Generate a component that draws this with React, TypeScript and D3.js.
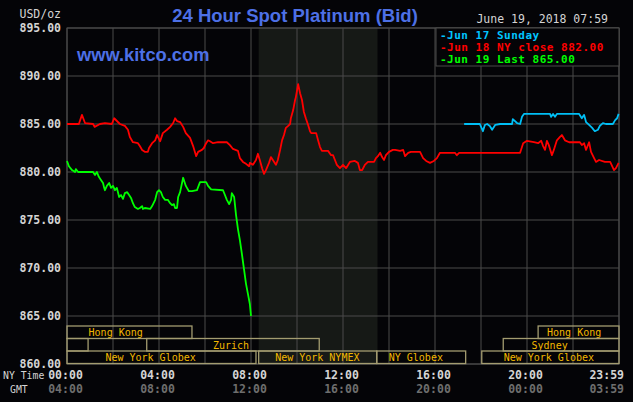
import * as d3 from 'd3';

// price axis + time labels
const priceTicks = [860, 865, 870, 875, 880, 885, 890, 895];
const nyTimeLabels = ['00:00', '04:00', '08:00', '12:00', '16:00', '20:00', '23:59'];
const gmtLabels = ['04:00', '08:00', '12:00', '16:00', '20:00', '00:00', '03:59'];

// Jun 18 NY close (red)
const jun18: [string, number][] = [
  ['00:00', 885.0], ['00:31', 885.0], ['00:39', 885.95], ['00:47', 885.1], ['01:08', 885.0],
  ['01:12', 884.7], ['01:26', 885.0], ['01:39', 885.1], ['01:57', 885.0], ['02:03', 885.6],
  ['02:18', 885.0], ['02:31', 884.8], ['02:39', 884.4], ['02:44', 883.65], ['02:52', 883.1],
  ['03:05', 883.0], ['03:10', 882.7], ['03:16', 882.3], ['03:23', 882.1], ['03:31', 882.1],
  ['03:34', 882.5], ['03:42', 883.0], ['03:50', 883.3], ['03:55', 883.85], ['04:03', 883.2],
  ['04:10', 884.05], ['04:21', 884.4], ['04:29', 884.7], ['04:37', 885.1], ['04:42', 885.6],
  ['04:47', 885.3], ['04:55', 885.2], ['05:03', 884.7], ['05:10', 884.05], ['05:21', 883.55],
  ['05:29', 882.7], ['05:37', 881.65], ['05:42', 882.1], ['05:52', 882.3], ['05:57', 882.5],
  ['06:03', 883.0], ['06:08', 883.3], ['06:13', 883.2], ['06:21', 883.0], ['06:34', 883.1],
  ['06:57', 883.1], ['07:05', 882.8], ['07:13', 882.4], ['07:26', 882.2], ['07:31', 881.45],
  ['07:39', 881.05], ['07:47', 880.85], ['07:55', 880.6], ['07:57', 880.95], ['08:05', 880.75],
  ['08:13', 881.25], ['08:18', 881.9], ['08:23', 881.25], ['08:29', 880.4], ['08:34', 879.8],
  ['08:39', 880.2], ['08:47', 880.95], ['08:52', 881.55], ['08:57', 881.25], ['09:05', 880.75],
  ['09:10', 881.25], ['09:16', 882.3], ['09:21', 883.3], ['09:26', 883.85], ['09:31', 884.6],
  ['09:37', 884.8], ['09:42', 885.0], ['09:44', 885.6], ['09:50', 886.45], ['09:55', 887.5],
  ['09:57', 887.8], ['10:03', 889.15], ['10:08', 888.2], ['10:13', 887.5], ['10:18', 886.25],
  ['10:23', 885.6], ['10:29', 884.9], ['10:34', 884.25], ['10:37', 884.05], ['10:50', 884.05],
  ['10:55', 883.3], ['11:00', 882.6], ['11:05', 882.2], ['11:21', 882.2], ['11:29', 881.75],
  ['11:34', 881.75], ['11:39', 881.25], ['11:44', 880.75], ['11:52', 880.4], ['12:00', 880.75],
  ['12:08', 880.4], ['12:18', 881.05], ['12:31', 881.15], ['12:39', 880.95], ['12:44', 880.2],
  ['12:50', 880.2], ['12:57', 880.75], ['13:05', 881.05], ['13:21', 881.05], ['13:26', 881.45],
  ['13:31', 881.65], ['13:37', 882.0], ['13:42', 881.55], ['13:47', 881.25], ['13:52', 881.75],
  ['14:00', 882.1], ['14:10', 882.3], ['14:16', 882.3], ['14:29', 882.2], ['14:37', 882.3],
  ['14:42', 881.65], ['14:50', 882.0], ['14:57', 882.1], ['15:21', 882.1], ['15:29', 881.45],
  ['15:37', 881.15], ['15:47', 880.95], ['15:57', 881.15], ['16:05', 881.45], ['16:13', 882.0],
  ['16:39', 882.0], ['16:52', 882.0], ['16:57', 881.75], ['17:03', 882.0], ['19:42', 882.0],
  ['19:50', 883.0], ['20:00', 883.25], ['20:18', 883.1], ['20:29', 883.0], ['20:37', 883.25],
  ['20:42', 882.7], ['20:47', 882.3], ['20:52', 883.25], ['20:57', 882.8], ['21:05', 881.75],
  ['21:10', 882.3], ['21:18', 883.3], ['21:26', 883.65], ['21:31', 883.85], ['21:39', 883.3],
  ['21:50', 883.1], ['22:18', 883.1], ['22:23', 882.8], ['22:29', 883.0], ['22:34', 882.3],
  ['22:42', 883.1], ['22:47', 882.1], ['22:55', 881.45], ['23:00', 881.05], ['23:08', 881.25],
  ['23:23', 881.05], ['23:37', 881.05], ['23:47', 880.2], ['23:52', 880.4], ['23:59', 880.95],
];

// Jun 19 last (green)
const jun19: [string, number][] = [
  ['00:00', 881.15], ['00:05', 880.6], ['00:13', 880.2], ['00:21', 880.0], ['00:23', 880.3],
  ['00:29', 880.0], ['01:08', 880.0], ['01:13', 879.7], ['01:18', 880.0], ['01:23', 879.5],
  ['01:29', 879.15], ['01:34', 878.85], ['01:37', 878.35], ['01:39', 878.1], ['01:44', 878.55],
  ['01:50', 878.85], ['01:55', 878.35], ['02:00', 878.55], ['02:05', 878.1], ['02:10', 878.35],
  ['02:16', 877.4], ['02:21', 877.6], ['02:26', 877.2], ['02:31', 877.8], ['02:37', 877.9],
  ['02:42', 877.6], ['02:47', 877.3], ['02:52', 876.75], ['02:57', 876.35], ['03:05', 876.15],
  ['03:10', 876.25], ['03:16', 876.45], ['03:18', 876.15], ['03:23', 876.25], ['03:37', 876.15],
  ['03:42', 876.45], ['03:50', 877.1], ['03:55', 877.9], ['04:00', 878.1], ['04:05', 877.9],
  ['04:10', 877.4], ['04:16', 877.1], ['04:23', 877.1], ['04:29', 876.75], ['04:34', 876.55],
  ['04:39', 876.65], ['04:42', 876.25], ['04:47', 876.25], ['04:50', 877.4], ['04:55', 877.9],
  ['05:03', 879.4], ['05:10', 878.55], ['05:18', 878.0], ['05:26', 878.0], ['05:39', 878.1],
  ['05:47', 878.95], ['06:03', 878.95], ['06:08', 878.55], ['06:16', 878.2], ['06:47', 878.1],
  ['06:52', 877.6], ['06:57', 877.1], ['07:03', 876.65], ['07:08', 877.1], ['07:10', 877.8],
  ['07:16', 877.4], ['07:21', 875.5], ['07:26', 874.05], ['07:31', 872.9], ['07:37', 871.25],
  ['07:42', 869.8], ['07:47', 868.35], ['07:52', 867.3], ['07:57', 866.25], ['08:00', 865.0],
];

// Jun 17 Sunday (cyan)
const jun17: [string, number][] = [
  ['17:16', 885.0], ['17:57', 885.0], ['18:05', 884.25], ['18:10', 884.9], ['18:16', 885.0],
  ['18:23', 884.8], ['18:29', 884.4], ['18:37', 884.9], ['18:50', 885.0], ['19:21', 885.0],
  ['19:23', 885.5], ['19:34', 885.1], ['19:42', 885.0], ['19:47', 885.75], ['19:52', 886.05],
  ['21:00', 886.05], ['21:03', 885.75], ['21:08', 886.05], ['21:13', 885.75], ['21:18', 886.05],
  ['22:16', 886.05], ['22:23', 885.6], ['22:29', 885.95], ['22:34', 885.2], ['22:42', 884.9],
  ['22:50', 884.6], ['22:57', 884.25], ['23:05', 884.4], ['23:10', 884.8], ['23:18', 885.1],
  ['23:26', 885.0], ['23:44', 885.0], ['23:50', 885.4], ['23:55', 885.6], ['23:59', 886.05],
];

const series = [
  { name: 'Jun 17', data: jun17, color: '#00bff5' },
  { name: 'Jun 18', data: jun18, color: '#ff0000' },
  { name: 'Jun 19', data: jun19, color: '#00ff00' },
];

const legendItems = [
  { text: '-Jun 17 Sunday', color: '#00c4ff' },
  { text: '-Jun 18 NY close 882.00', color: '#ff0000' },
  { text: '-Jun 19 Last 865.00', color: '#00ff00' },
];

// market session bars (row 0 top .. row 2 bottom)
const sessions = [
  { row: 0, start: '00:00', end: '05:26', label: 'Hong Kong', labelAt: '02:07' },
  { row: 0, start: '20:29', end: '24:00', label: 'Hong Kong', labelAt: '22:03' },
  { row: 1, start: '00:00', end: '00:55', label: '', labelAt: '00:00' },
  { row: 1, start: '03:28', end: '10:58', label: 'Zurich', labelAt: '07:08' },
  { row: 1, start: '18:58', end: '24:00', label: 'Sydney', labelAt: '20:59' },
  { row: 2, start: '00:00', end: '08:13', label: 'New York Globex', labelAt: '03:38' },
  { row: 2, start: '08:20', end: '13:28', label: 'New York NYMEX', labelAt: '10:53' },
  { row: 2, start: '13:28', end: '17:20', label: 'NY Globex', labelAt: '15:10' },
  { row: 2, start: '18:02', end: '24:00', label: 'New York Globex', labelAt: '20:57' },
];

const nymexHours = ['08:20', '13:30'];

const width = 633;
const height = 402;
const margin = { top: 28, right: 14, bottom: 38, left: 67 };
const mono = '"DejaVu Sans Mono", monospace';

const parseTime = d3.timeParse('%H:%M');
const dayStart = parseTime('00:00') as Date;
const t = (s: string) => (s === '24:00' ? d3.timeDay.offset(dayStart, 1) : (parseTime(s) as Date));

export default function App() {
  const x = d3.scaleTime()
    .domain([dayStart, d3.timeDay.offset(dayStart, 1)])
    .range([margin.left, width - margin.right]);
  const y = d3.scaleLinear()
    .domain([860, 895])
    .range([height - margin.bottom, margin.top]);

  const line = d3.line<[string, number]>()
    .x(d => x(t(d[0])))
    .y(d => y(d[1]));

  const hourTicks = x.ticks(d3.timeHour.every(2) as d3.TimeInterval);
  const labelTicks = x.ticks(d3.timeHour.every(4) as d3.TimeInterval);
  const labelX = nyTimeLabels.map((_, i) => i < labelTicks.length - 1 ? x(labelTicks[i]) : x(t('24:00')));

  const rowH = 12.5;
  const rowTop = (r: number) => y(865) + 10 + r * rowH;
  const x0 = x.range()[0];
  const x1 = x.range()[1];

  return (
    <svg width={width} height={height} style={{ position: 'absolute', left: 0, top: 0, display: 'block' }}>
      <rect x={0} y={0} width={width} height={height} fill="#040407" />
      {/* NYMEX pit hours */}
      <rect x={x(t(nymexHours[0]))} y={y(895)} width={x(t(nymexHours[1])) - x(t(nymexHours[0]))}
        height={y(860) - y(895)} fill="#161916" />
      {/* grid */}
      {priceTicks.map(p => (
        <line key={p} x1={x0} x2={x1} y1={y(p)} y2={y(p)} stroke="#4a4a4a" strokeWidth={1} />
      ))}
      {hourTicks.map(h => (
        <line key={+h} x1={x(h)} x2={x(h)} y1={y(895)} y2={y(860)} stroke="#4a4a4a" strokeWidth={1} />
      ))}
      <rect x={x0} y={y(895)} width={x1 - x0} height={y(860) - y(895)} fill="none" stroke="#4a4a4a" />

      {/* legend box */}
      <rect x={436} y={y(895)} width={x1 - 436} height={38} fill="#040407" stroke="#4a4a4a" />
      {legendItems.map((d, i) => (
        <text key={d.text} x={440} y={38.5 + i * 12} fill={d.color} fontFamily={mono} fontSize={11}
          fontWeight="bold" letterSpacing={0.5}>{d.text}</text>
      ))}

      {/* sessions */}
      {sessions.map((s, i) => (
        <g key={i}>
          <rect x={x(t(s.start))} y={rowTop(s.row)} width={x(t(s.end)) - x(t(s.start))} height={rowH}
            fill="none" stroke="#a39c70" strokeWidth={1.3} />
          <text x={x(t(s.labelAt))} y={rowTop(s.row) + 10} fill="#f2b800" fontFamily={mono} fontSize={10}
            textAnchor="middle">{s.label}</text>
        </g>
      ))}

      {/* price lines */}
      {series.map(s => (
        <path key={s.name} d={line(s.data) ?? ''} fill="none" stroke={s.color} strokeWidth={1.8}
          strokeLinejoin="round" />
      ))}

      {/* y axis labels */}
      <text x={61} y={18} fill="#d4d4d4" fontFamily={mono} fontSize={11.5} textAnchor="end">USD/oz</text>
      {priceTicks.map(p => (
        <text key={p} x={61} y={y(p) + 3.5} fill="#d4d4d4" fontFamily={mono} fontSize={11.5} fontWeight="bold"
          textAnchor="end">{p.toFixed(2)}</text>
      ))}

      {/* x axis labels */}
      <text x={3} y={379} fill="#d4d4d4" fontFamily={mono} fontSize={9.8}>NY Time</text>
      <text x={10} y={393} fill="#d4d4d4" fontFamily={mono} fontSize={9.8}>GMT</text>
      {nyTimeLabels.map((lab, i) => {
        const last = i === nyTimeLabels.length - 1;
        return (
          <g key={lab + i}>
            <text x={last ? labelX[i] + 5 : labelX[i] - 1.5} y={379} fill="#d4d4d4" fontFamily={mono} fontSize={11.5}
              fontWeight="bold" textAnchor={last ? 'end' : 'middle'}>{lab}</text>
            <text x={last ? labelX[i] + 5 : labelX[i] - 1.5} y={393} fill="#6e6e6e" fontFamily={mono} fontSize={11.5}
              fontWeight="bold" textAnchor={last ? 'end' : 'middle'}>{gmtLabels[i]}</text>
          </g>
        );
      })}

      {/* titles */}
      <text x={295} y={22} fill="#4d70e6" fontFamily="'Liberation Sans', Arial, sans-serif" fontSize={18.5}
        fontWeight="bold" textAnchor="middle">24 Hour Spot Platinum (Bid)</text>
      <text x={77} y={61} fill="#4d70e6" fontFamily="'Liberation Sans', Arial, sans-serif" fontSize={18.3}
        fontWeight="bold">www.kitco.com</text>
      <text x={608} y={23} fill="#d4d4d4" fontFamily={mono} fontSize={11.5} textAnchor="end">June 19, 2018 07:59</text>
    </svg>
  );
}
